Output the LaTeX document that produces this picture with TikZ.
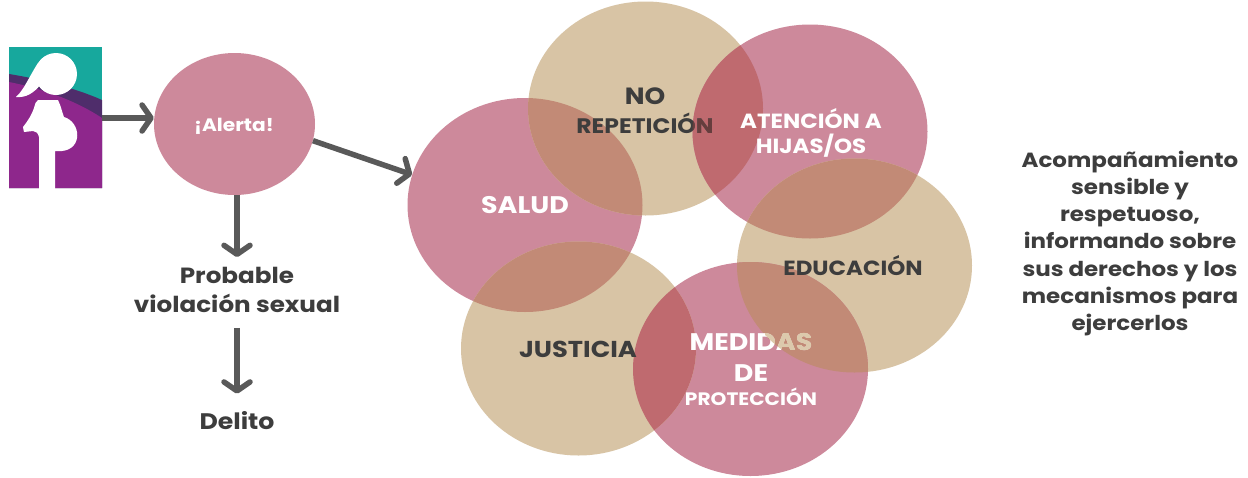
\documentclass[tikz,border=0pt]{standalone}
\usepackage{fontspec}
\setmainfont{Poppins}
\newfontfamily\widefont[FakeStretch=1.12]{Poppins}
\usetikzlibrary{arrows.meta,shapes.geometric}
\definecolor{pinkc}{HTML}{CD899B}
\definecolor{tanc}{HTML}{D8C4A5}
\definecolor{brownc}{HTML}{C28A76}
\definecolor{redc}{HTML}{BF6A6F}
\definecolor{darktxt}{HTML}{3D3D3D}
\definecolor{arrowc}{HTML}{595959}
\definecolor{tealc}{HTML}{17A89D}
\definecolor{purplec}{HTML}{8E278C}
\definecolor{bandc}{HTML}{4F2D6B}
\definecolor{maroonc}{HTML}{66303D}
\definecolor{lighttan}{HTML}{DCC9AC}
\newcommand{\fsz}[1]{\widefont\bfseries\fontsize{#1}{#1}\selectfont}
\tikzset{
  arr/.style={draw=arrowc, line width=5.5pt, -{Straight Barb[length=9pt,width=26pt,line cap=round,line join=round]}},
  lbl/.style={inner sep=0pt, align=center},
  lblw/.style={lbl, text=white},
  lbld/.style={lbl, text=darktxt},
  side/.style={font=\widefont\bfseries\fontsize{22}{29}\selectfont, text=darktxt, inner sep=0pt, align=center},
  bubble/.style={ellipse, minimum width=235pt, minimum height=214pt, inner sep=0pt},
}
\newcommand{\circclip}[1]{\clip (#1) ellipse [x radius=117.5pt, y radius=107pt];}
\begin{document}
\begin{tikzpicture}[x=1pt,y=-1pt]
\useasboundingbox (0,0) rectangle (1248,477);
\fill[white] (0,0) rectangle (1248,477);

% ---------- icon ----------
\node[minimum width=93pt, minimum height=141pt, inner sep=0pt, fill=tealc] (icon) at (55.5,117.5) {};
\begin{scope}
  \clip (9,47) rectangle (102,188);
  \fill[bandc] (9,74) .. controls (40,79) and (75,88) .. (102,100) -- (102,188) -- (9,188) -- cycle;
  \fill[purplec] (9,82) .. controls (40,88) and (75,100) .. (102,118) -- (102,188) -- (9,188) -- cycle;
  \fill[white] (56,74) circle (21pt);
  \fill[white] (38,63) .. controls (30,75) and (24,90) .. (16,97) .. controls (26,98) and (34,93) .. (41,84) -- cycle;
  \fill[white] (38,100) -- (58,100) .. controls (61,106) and (62,112) .. (64,117)
     .. controls (81,122) and (83,149) .. (62,151) -- (55,151) -- (55,190) -- (39,190) -- (39,137)
     .. controls (38,133) and (36,131) .. (33,131) -- (24,132) -- (23,127)
     .. controls (28,121) and (32,114) .. (34,108) .. controls (35,104) and (36,101) .. (38,100) -- cycle;
\end{scope}

% ---------- alert ----------
\node[ellipse, fill=pinkc, minimum width=161pt, minimum height=142pt, inner sep=0pt] (alerta) at (234.5,124) {};
\node[font=\fsz{18}, text=white, inner sep=0pt] (alertaTxt) at (234,126) {¡Alerta!};

\node[side] (probable) at (237,290) {Probable\\violación sexual};
\node[side, font=\fsz{22.5}] (delito) at (237,421) {Delito};

% ---------- bubbles ----------
\coordinate (cSal) at (525,205);
\coordinate (cNo) at (645.5,108.5);
\coordinate (cAt) at (810,131.5);
\coordinate (cEd) at (854.5,265.5);
\coordinate (cMe) at (750.5,369);
\coordinate (cJu) at (578.5,348.5);

\node[bubble, fill=pinkc] (salud) at (cSal) {};
\node[bubble, fill=tanc] (norep) at (cNo) {};
\node[bubble, fill=pinkc] (atencion) at (cAt) {};
\node[bubble, fill=tanc] (educacion) at (cEd) {};
\node[bubble, fill=pinkc] (medidas) at (cMe) {};
\node[bubble, fill=tanc] (justicia) at (cJu) {};

\begin{scope}\circclip{cSal}\fill[brownc] (cNo) ellipse [x radius=117.5pt, y radius=107pt];\end{scope}
\begin{scope}\circclip{cNo}\fill[redc] (cAt) ellipse [x radius=117.5pt, y radius=107pt];\end{scope}
\begin{scope}\circclip{cAt}\fill[brownc] (cEd) ellipse [x radius=117.5pt, y radius=107pt];\end{scope}
\begin{scope}\circclip{cEd}\fill[brownc] (cMe) ellipse [x radius=117.5pt, y radius=107pt];\end{scope}
\begin{scope}\circclip{cMe}\fill[redc] (cJu) ellipse [x radius=117.5pt, y radius=107pt];\end{scope}
\begin{scope}\circclip{cJu}\fill[brownc] (cSal) ellipse [x radius=117.5pt, y radius=107pt];\end{scope}

% labels
\node[lblw, font=\fsz{24}] (tSal) at (525,205) {SALUD};
\node[lbld, font=\fsz{23.5}] (tNo) at (645,96) {NO};
\node[lbld, font=\fsz{21}] (tRep) at (645,123.5) {REPETICIÓN};
\node[lblw, font=\widefont\bfseries\fontsize{20.5}{25}\selectfont] (tAt) at (811,132.5) {ATENCIÓN A\\HIJAS/OS};
\node[lbld, font=\fsz{20.5}] (tEd) at (853,266) {EDUCACIÓN};
\node[lbld, font=\fsz{23}] (tJu) at (578,349.5) {JUSTICIA};
\node[lblw, font=\fsz{24}] (tMe) at (751,342) {MEDIDAS};
\node[lblw, font=\fsz{24}] (tDe) at (751,373) {DE};
\node[lblw, font=\fsz{18}] (tPr) at (751,397) {PROTECCIÓN};

% tinted text parts
\begin{scope}[blend mode=lighten]
  \circclip{cAt}
  \fill[maroonc] (690,110) rectangle (720,135);
\end{scope}
\begin{scope}[blend mode=darken]
  \circclip{cEd}
  \fill[lighttan] (765,330) rectangle (825,356);
\end{scope}

% right text
\node[font=\widefont\bfseries\fontsize{20.5}{27.3}\selectfont, text=darktxt, align=center, inner sep=0pt] (note) at (1130,243.5)
  {Acompañamiento\\sensible y\\respetuoso,\\informando sobre\\sus derechos y los\\mecanismos para\\ejercerlos};

% ---------- arrows ----------
\draw[arr] (icon.east |- 0,118) -- (alerta.west |- 0,118);
\draw[arr] (alerta.-12) -- (salud.165);
\draw[arr] (alerta.south -| probable.north) -- ([yshift=10pt]probable.north);
\draw[arr] ([yshift=-15pt]probable.south) -- ([yshift=18pt]delito.north);
\end{tikzpicture}
\end{document}
